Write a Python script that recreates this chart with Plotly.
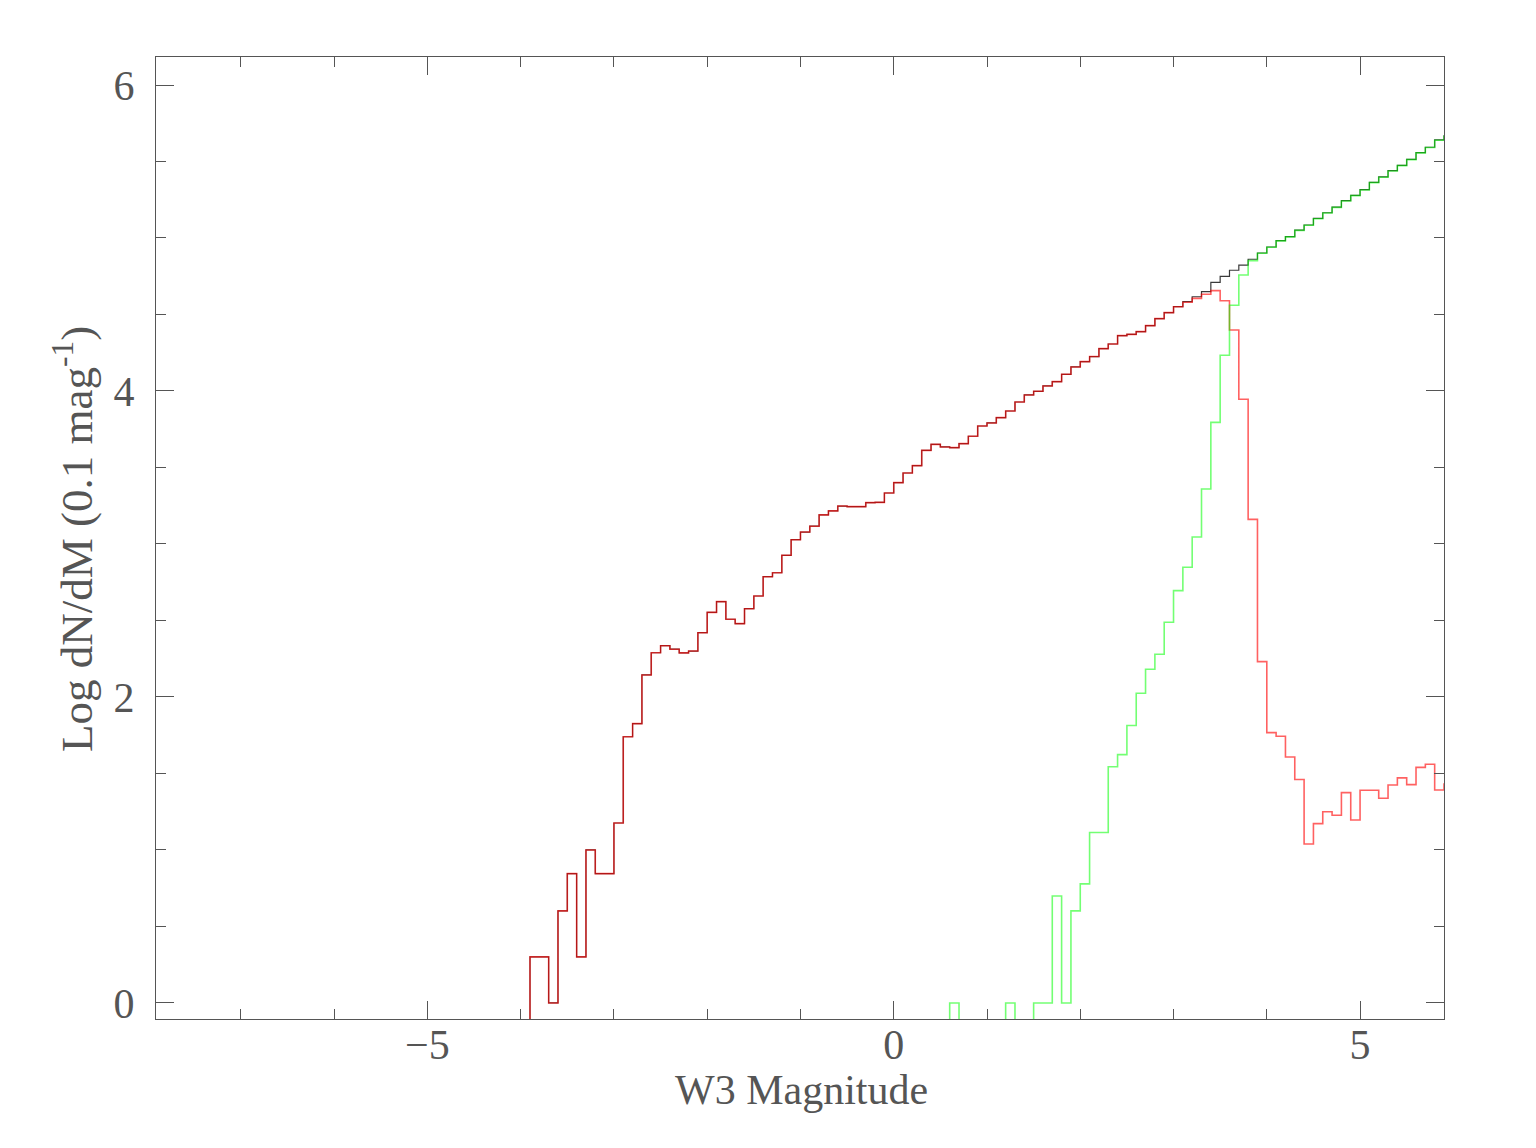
import plotly.graph_objects as go

# Bin lower edges (0.1 mag bins) from -3.9 to 5.9
bin_start = -3.9
bin_width = 0.1

# Log dN/dM for all sources (black)
total_vals = [
    0.301, 0.301, 0.0, 0.602, 0.845, 0.301, 1.0, 0.845, 0.845, 1.176,
    1.740, 1.826, 2.144, 2.289, 2.335, 2.312, 2.288, 2.300, 2.420, 2.553,
    2.623, 2.508, 2.479, 2.577, 2.660, 2.786, 2.812, 2.926, 3.028, 3.078,
    3.116, 3.190, 3.216, 3.248, 3.244, 3.244, 3.270, 3.272, 3.333, 3.401,
    3.464, 3.512, 3.612, 3.651, 3.634, 3.630, 3.656, 3.704, 3.771, 3.791,
    3.826, 3.869, 3.928, 3.974, 3.998, 4.033, 4.061, 4.109, 4.157, 4.192,
    4.225, 4.277, 4.307, 4.362, 4.370, 4.388, 4.427, 4.473, 4.512, 4.551,
    4.584, 4.616, 4.649, 4.710, 4.749, 4.789, 4.822, 4.861, 4.902, 4.941,
    4.983, 5.009, 5.052, 5.085, 5.128, 5.165, 5.202, 5.244, 5.279, 5.316,
    5.364, 5.399, 5.440, 5.475, 5.514, 5.558, 5.593, 5.641, 5.667,
]

# Log dN/dM for the red subset
red_vals = [
    0.301, 0.301, 0.0, 0.602, 0.845, 0.301, 1.0, 0.845, 0.845, 1.176,
    1.740, 1.826, 2.144, 2.289, 2.335, 2.312, 2.288, 2.300, 2.420, 2.553,
    2.623, 2.508, 2.479, 2.577, 2.660, 2.786, 2.812, 2.926, 3.028, 3.078,
    3.116, 3.190, 3.216, 3.248, 3.244, 3.244, 3.270, 3.272, 3.333, 3.401,
    3.464, 3.512, 3.612, 3.651, 3.634, 3.630, 3.656, 3.704, 3.771, 3.791,
    3.826, 3.869, 3.928, 3.974, 3.998, 4.033, 4.061, 4.109, 4.157, 4.192,
    4.225, 4.277, 4.307, 4.362, 4.370, 4.388, 4.427, 4.473, 4.512, 4.551,
    4.580, 4.605, 4.632, 4.656, 4.590, 4.399, 3.946, 3.161, 2.231, 1.767,
    1.743, 1.608, 1.460, 1.039, 1.172, 1.250, 1.227, 1.375, 1.196, 1.390,
    1.390, 1.338, 1.425, 1.471, 1.427, 1.540, 1.560, 1.392, 1.430,
]

# Log dN/dM for the green subset (None = empty bin)
green_vals = [None] * 45 + [
    0.0, None, None, None, None, None, 0.0, None, None, 0.0,
    0.0, 0.699, 0.0, 0.602, 0.778, 1.114, 1.114, 1.544, 1.623, 1.813,
    2.024, 2.181, 2.279, 2.488, 2.695, 2.848, 3.046, 3.359, 3.795, 4.234,
    4.560, 4.758, 4.852, 4.900, 4.939, 4.981, 5.007, 5.050, 5.083, 5.126,
    5.163, 5.200, 5.242, 5.277, 5.314, 5.362, 5.397, 5.438, 5.473, 5.512,
    5.556, 5.591, 5.639, 5.665,
]

x_ticks = [-5, 0, 5]
y_ticks = [0, 2, 4, 6]
x_title = "W3 Magnitude"
y_title = "Log dN/dM (0.1 mag<sup>-1</sup>)"

FLOOR = -1.0  # empty bins (log of zero) fall below the axis


def step_xy(vals):
    xs, ys = [bin_start], [FLOOR]
    for i, v in enumerate(vals):
        xs.append(round(bin_start + i * bin_width, 3))
        ys.append(FLOOR if v is None else v)
    xs.append(round(bin_start + len(vals) * bin_width, 3))
    ys.append(ys[-1])
    return xs, ys


fig = go.Figure()
for vals, color, width in [
    (total_vals, "#3a3a3a", 1.2),
    (red_vals, "rgba(255,0,0,0.62)", 1.6),
    (green_vals, "rgba(0,255,0,0.55)", 1.6),
]:
    xs, ys = step_xy(vals)
    fig.add_trace(go.Scatter(x=xs, y=ys, mode="lines", line_shape="hv",
                             line=dict(color=color, width=width),
                             showlegend=False, hoverinfo="skip"))

font_family = "Liberation Serif"
text_color = "#555"
axis_common = dict(
    showline=True, linecolor=text_color, linewidth=1.2, mirror="allticks",
    ticks="inside", ticklen=18, tickwidth=1.2, tickcolor=text_color,
    showgrid=False, zeroline=False,
    tickfont=dict(family=font_family, size=42, color=text_color),
)

fig.update_xaxes(
    range=[-7.91, 5.9], tickvals=x_ticks,
    minor=dict(dtick=1, tick0=0, ticks="inside", ticklen=10, tickcolor=text_color,
               tickwidth=1.2, showgrid=False),
    ticklabelstandoff=-12,
    **axis_common,
)
fig.update_yaxes(
    range=[-0.105, 6.183], tickvals=y_ticks,
    minor=dict(dtick=0.5, tick0=0, ticks="inside", ticklen=10, tickcolor=text_color,
               tickwidth=1.2, showgrid=False),
    ticklabelstandoff=12,
    **axis_common,
)

# plot area in page pixels: x 156..1444, y 57..1019 (page has an 8px body margin)
plot_w, plot_h = 1288, 962
fig.add_annotation(text=x_title, xref="paper", yref="paper",
                   x=(801 - 156) / plot_w, y=-(1090 - 1019) / plot_h,
                   xanchor="center", yanchor="middle", showarrow=False,
                   font=dict(family=font_family, size=42, color=text_color))
fig.add_annotation(text=y_title, xref="paper", yref="paper",
                   x=(73 - 156) / plot_w, y=(1019 - 539) / plot_h,
                   xanchor="center", yanchor="middle", showarrow=False,
                   textangle=-90,
                   font=dict(family=font_family, size=45, color=text_color))

fig.update_layout(
    width=1528, height=1140,
    margin=dict(l=148, r=92, t=49, b=129),
    paper_bgcolor="white", plot_bgcolor="white",
)

fig.write_html("out.html")
